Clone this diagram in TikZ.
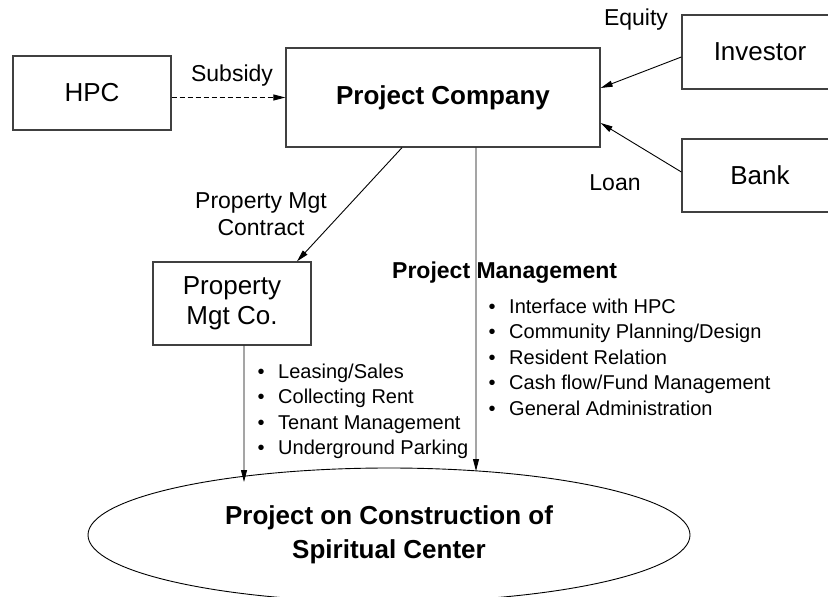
\documentclass[tikz,border=0pt]{standalone}
\usepackage{fontspec}
\setmainfont{Liberation Sans}
\usetikzlibrary{arrows.meta,shapes.geometric}
\begin{document}
\begin{tikzpicture}[x=1bp,y=-1bp,
  box/.style={draw=black!75, line width=1.3bp, rectangle, inner sep=0pt, align=center,
    font=\fontsize{26bp}{30bp}\selectfont},
  conn/.style={draw=black, line width=0.9bp, -{Triangle[length=12bp,width=6bp]}},
  lbl/.style={inner sep=0pt, align=center, font=\fontsize{23bp}{27bp}\selectfont},
  bullets/.style={inner sep=0pt, anchor=base west, font=\fontsize{20bp}{25.5bp}\selectfont},
  hdr/.style={inner sep=0pt, anchor=base west, font=\fontsize{23bp}{27bp}\selectfont\bfseries},
]
\useasboundingbox (0,0) rectangle (828,597);
\clip (0,0) rectangle (828,597);

% organisations
\node[box, minimum width=158bp, minimum height=74bp] (hpc) at (92,93) {HPC};
\node[box, minimum width=314bp, minimum height=99bp,
      font=\fontsize{26bp}{30bp}\selectfont\bfseries] (pc) at (443,97.5) {Project Company};
\node[box, minimum width=156bp, minimum height=74bp] (inv) at (760,52) {Investor};
\node[box, minimum width=156bp, minimum height=73bp] (bank) at (760,175.5) {Bank};
\node[box, minimum width=158bp, minimum height=83bp] (pmc) at (232,303.5) {Property\\Mgt Co.};

% the project itself
\node[draw=black, line width=0.9bp, ellipse, minimum width=602bp, minimum height=134bp,
      inner sep=0pt, align=center, font=\fontsize{26bp}{34bp}\selectfont\bfseries]
      (proj) at (389,535) {Project on Construction of\\Spiritual Center};

% flows between the parties
\draw[conn, dash pattern=on 5bp off 3bp] (hpc.east |- pc.west) -- (pc.west);
\draw[conn] ([yshift=-5bp]inv.west) -- ([yshift=9.5bp]pc.east);
\draw[conn] ([yshift=3.5bp]bank.west) -- ([yshift=-25.5bp]pc.east);
\draw[conn] ([xshift=-41bp]pc.south) -- ([xshift=65bp]pmc.north);

\coordinate (pmcEnd) at (244,482);
\coordinate (pcEnd) at (476,471);
\draw[conn] ([xshift=12bp]pmc.south) -- (pmcEnd);
\draw[conn] ([xshift=33bp]pc.south) -- (pcEnd);

% connector labels
\node[lbl] (lsub) at (232,76) {Subsidy};
\node[lbl] (leq) at (636,20) {Equity};
\node[lbl] (lloan) at (615,183) {Loan};
\node[lbl] (lcon) at (261,214) {Property Mgt\\Contract};

% duties
\node[hdr] (pmh) at (392,278) {Project Management};
\node[bullets] (pml) at (488.5,313) {\begin{tabular}[t]{@{}l@{\hspace{13.5bp}}l@{}}
  •&Interface with HPC\\
  •&Community Planning/Design\\
  •&Resident Relation\\
  •&Cash flow/Fund Management\\
  •&General Administration
\end{tabular}};
\node[bullets] (pmcl) at (257.5,378) {\begin{tabular}[t]{@{}l@{\hspace{13.5bp}}l@{}}
  •&Leasing/Sales\\
  •&Collecting Rent\\
  •&Tenant Management\\
  •&Underground Parking
\end{tabular}};
\end{tikzpicture}
\end{document}
